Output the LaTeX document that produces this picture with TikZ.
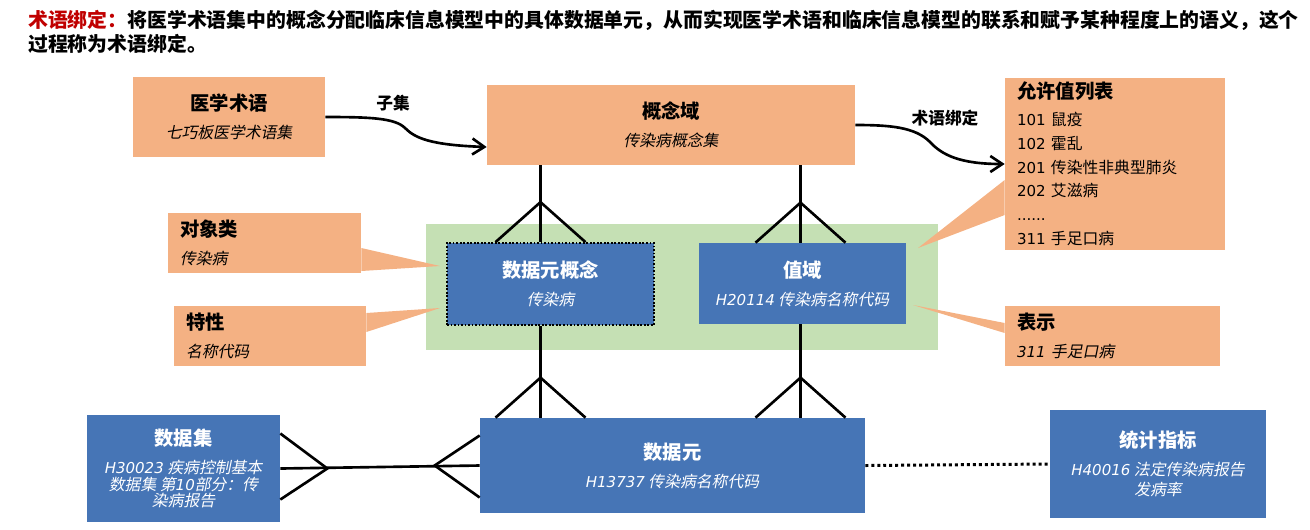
\documentclass[tikz,border=0pt]{standalone}
\usepackage{fontspec}
\setmainfont{Noto Sans CJK SC}[AutoFakeSlant=0.2]
\newfontfamily\latfont{DejaVu Sans}[Scale=0.95]
\usetikzlibrary{arrows.meta,calc}
\definecolor{tOrange}{RGB}{244,177,131}
\definecolor{tGreen}{RGB}{197,224,180}
\definecolor{tBlue}{RGB}{70,117,182}
\definecolor{tRed}{RGB}{192,0,0}
\newcommand\boxhead[1]{{\fontsize{11}{15.9}\selectfont\bfseries #1}}
\newcommand\boxsub[1]{{\itshape #1}}
\newcommand\lat[1]{{\latfont #1}}
\begin{document}
\begin{tikzpicture}[x=0.02cm, y=-0.02cm,
  obox/.style={fill=tOrange, align=center, inner sep=0pt, font=\fontsize{9}{15.9}\selectfont},
  bbox/.style={obox, fill=tBlue, text=white},
  lbox/.style={obox, align=left, inner xsep=0.24cm},
  link/.style={line width=1.5pt},
  arr/.style={line width=1.5pt, -{Straight Barb[length=0.24cm, width=0.32cm]}},
  lbl/.style={font=\fontsize{9.5}{11}\selectfont\bfseries}]
  \useasboundingbox (0,0) rectangle (1310,529);

  % heading
  \node[anchor=base west, font=\fontsize{11.3}{13.6}\selectfont\bfseries] (title) at (22,27.6)
    {\textcolor{tRed}{术语绑定：}将医学术语集中的概念分配临床信息模型中的具体数据单元，从而实现医学术语和临床信息模型的联系和赋予某种程度上的语义，这个};
  \node[anchor=base west, font=\fontsize{11.3}{13.6}\selectfont\bfseries] (titleb) at (22,51.6) {过程称为术语绑定。};

  % green ground
  \node[fill=tGreen, inner sep=0pt, minimum width=10.24cm, minimum height=2.52cm] (bg) at (682,287) {};

  % orange boxes
  \node[obox, minimum width=3.84cm, minimum height=1.6cm] (term) at (229,117) {\boxhead{医学术语}\\\boxsub{七巧板医学术语集}};
  \node[obox, minimum width=7.36cm, minimum height=1.6cm] (cd) at (671,125) {\boxhead{概念域}\\\boxsub{传染病概念集}};
  \node[lbox, text width=3.92cm, minimum height=3.44cm, font=\fontsize{9}{13.6}\selectfont] (allowed) at (1115,164)
    {\boxhead{允许值列表}\\[1.5pt]\lat{101} 鼠疫\\\lat{102} 霍乱\\\lat{201} 传染性非典型肺炎\\\lat{202} 艾滋病\\\lat{......}\\\lat{311} 手足口病};
  \node[lbox, text width=3.38cm, minimum height=1.2cm] (obj) at (264.5,243) {\boxhead{对象类}\\\boxsub{传染病}};
  \node[lbox, text width=3.36cm, minimum height=1.2cm] (prop) at (270,336) {\boxhead{特性}\\\boxsub{名称代码}};
  \node[lbox, text width=3.82cm, minimum height=1.2cm] (rep) at (1112.5,336) {\boxhead{表示}\\\boxsub{\lat{311} 手足口病}};

  % blue boxes
  \node[bbox, minimum width=4.14cm, minimum height=1.64cm, draw=black, densely dotted, line width=1pt] (dec) at (550.5,284) {\boxhead{数据元概念}\\\boxsub{传染病}};
  \node[bbox, minimum width=4.14cm, minimum height=1.62cm] (vd) at (802.5,283.5) {\boxhead{值域}\\\boxsub{\lat{H20114} 传染病名称代码}};
  \node[bbox, minimum width=3.86cm, minimum height=2.14cm] (ds) at (183.5,468.5)
    {\boxhead{数据集}\\\boxsub{\lat{H30023} 疾病控制基本}\\[-6.3pt]\boxsub{数据集 第\lat{10}部分：传}\\[-6.3pt]\boxsub{染病报告}};
  \node[bbox, minimum width=7.7cm, minimum height=1.9cm] (de) at (672.5,465.5) {\boxhead{数据元}\\\boxsub{\lat{H13737} 传染病名称代码}};
  \node[bbox, minimum width=4.32cm, minimum height=2.16cm] (stat) at (1158,464)
    {\boxhead{统计指标}\\\boxsub{\lat{H40016} 法定传染病报告}\\[-4.6pt]\boxsub{发病率}};

  % callout wedges
  \coordinate (objTip) at (440,266);
  \coordinate (propTip) at (440,308);
  \coordinate (repTip) at (913,305);
  \coordinate (allowedTip) at (918,248);
  \fill[tOrange] ($(obj.east)+(0,5)$) -- (objTip) -- ($(obj.east)+(0,28)$) -- cycle;
  \fill[tOrange] ($(prop.east)+(0,-23)$) -- (propTip) -- ($(prop.east)+(0,-4)$) -- cycle;
  \fill[tOrange] ($(rep.west)+(0,-13)$) -- (repTip) -- ($(rep.west)+(0,-3)$) -- cycle;
  \fill[tOrange] ($(allowed.west)+(0,16)$) -- (allowedTip) -- ($(allowed.west)+(0,51)$) -- cycle;

  % curved arrows
  \draw[arr] (term.east) .. controls (370,117) and (395,118) .. (405,128)
    .. controls (415,138) and (430,145) .. ($(cd.west)+(0,22)$);
  \node[lbl] (subLbl) at (393,103) {子集};
  \draw[arr] (cd.east) .. controls (890,125) and (915,127) .. (930,142)
    .. controls (942,155) and (960,164) .. (allowed.west);
  \node[lbl] (bindLbl) at (945,118) {术语绑定};

  % vertical crow's feet
  \foreach \up/\low/\ref/\dx in {cd/dec/dec/-10, cd/vd/vd/-2, dec/de/dec/-10, vd/de/vd/-2} {
    \coordinate (f) at ($(\ref.center)+(\dx,0)$);
    \coordinate (g) at (f |- \low.north);
    \draw[link] (f |- \up.south) -- (g);
    \draw[link] ($(g)+(-45,0)$) -- ($(g)+(0,-40)$) -- ($(g)+(45,0)$);
  }

  % data set to data element
  \draw[link] (ds.east) -- (de.west);
  \draw[link] ($(ds.east)+(0,-35)$) -- ($(ds.east)+(47,0)$) -- ($(ds.east)+(0,31)$);
  \draw[link] ($(de.west)+(0,-30)$) -- ($(de.west)+(-45,0)$) -- ($(de.west)+(0,32)$);

  % data element to indicator
  \draw[line width=1.7pt, dash pattern=on 1.7pt off 1.7pt] (de.east) -- (stat.west);
\end{tikzpicture}
\end{document}
